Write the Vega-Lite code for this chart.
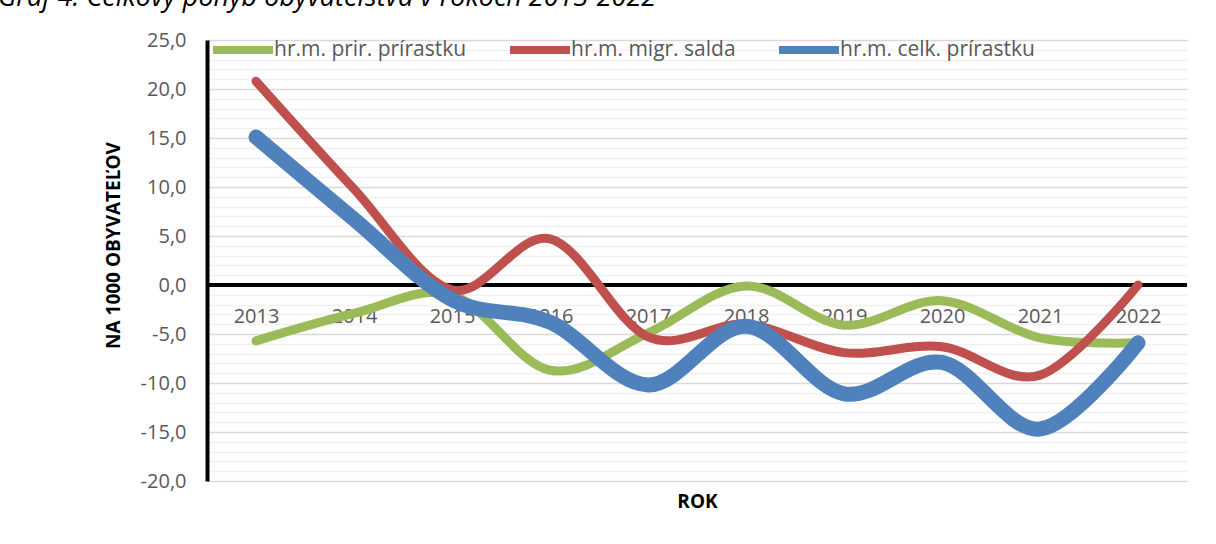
{
  "$schema": "https://vega.github.io/schema/vega-lite/v6.json",
  "width": 980,
  "height": 441,
  "autosize": {"type": "none"},
  "padding": {"left": 207, "top": 40, "right": 29, "bottom": 63},
  "background": "white",
  "title": {
    "text": "Graf 4: Celkový pohyb obyvateľstva v rokoch 2013-2022",
    "anchor": "start",
    "frame": "group",
    "fontStyle": "italic",
    "fontWeight": "normal",
    "fontSize": 27,
    "color": "#000000",
    "font": "Open Sans",
    "dx": -209,
    "dy": 17,
    "offset": 0,
    "baseline": "alphabetic"
  },
  "config": {
    "font": "Open Sans",
    "view": {"stroke": null}
  },
  "data": {
    "values": [
      {"year": "2013", "series": "hr.m. prir. prírastku", "value": -5.7},
      {"year": "2014", "series": "hr.m. prir. prírastku", "value": -2.9},
      {"year": "2015", "series": "hr.m. prir. prírastku", "value": -1.0},
      {"year": "2016", "series": "hr.m. prir. prírastku", "value": -8.7},
      {"year": "2017", "series": "hr.m. prir. prírastku", "value": -4.9},
      {"year": "2018", "series": "hr.m. prir. prírastku", "value": -0.1},
      {"year": "2019", "series": "hr.m. prir. prírastku", "value": -4.1},
      {"year": "2020", "series": "hr.m. prir. prírastku", "value": -1.6},
      {"year": "2021", "series": "hr.m. prir. prírastku", "value": -5.4},
      {"year": "2022", "series": "hr.m. prir. prírastku", "value": -5.9},
      {"year": "2013", "series": "hr.m. migr. salda", "value": 20.8},
      {"year": "2014", "series": "hr.m. migr. salda", "value": 9.8},
      {"year": "2015", "series": "hr.m. migr. salda", "value": -0.5},
      {"year": "2016", "series": "hr.m. migr. salda", "value": 4.7},
      {"year": "2017", "series": "hr.m. migr. salda", "value": -5.3},
      {"year": "2018", "series": "hr.m. migr. salda", "value": -4.0},
      {"year": "2019", "series": "hr.m. migr. salda", "value": -6.9},
      {"year": "2020", "series": "hr.m. migr. salda", "value": -6.3},
      {"year": "2021", "series": "hr.m. migr. salda", "value": -9.2},
      {"year": "2022", "series": "hr.m. migr. salda", "value": 0.0},
      {"year": "2013", "series": "hr.m. celk. prírastku", "value": 15.1},
      {"year": "2014", "series": "hr.m. celk. prírastku", "value": 6.7},
      {"year": "2015", "series": "hr.m. celk. prírastku", "value": -1.5},
      {"year": "2016", "series": "hr.m. celk. prírastku", "value": -3.8},
      {"year": "2017", "series": "hr.m. celk. prírastku", "value": -10.2},
      {"year": "2018", "series": "hr.m. celk. prírastku", "value": -4.2},
      {"year": "2019", "series": "hr.m. celk. prírastku", "value": -11.1},
      {"year": "2020", "series": "hr.m. celk. prírastku", "value": -7.9},
      {"year": "2021", "series": "hr.m. celk. prírastku", "value": -14.7},
      {"year": "2022", "series": "hr.m. celk. prírastku", "value": -5.9}
    ]
  },
  "layer": [
    {
      "mark": {"type": "rule", "color": "#000000", "strokeWidth": 4},
      "encoding": {"y": {"datum": 0, "type": "quantitative"}}
    },
    {
      "transform": [{"filter": "datum.series === 'hr.m. prir. prírastku'"}],
      "mark": {"type": "line", "interpolate": "cardinal", "strokeWidth": 9, "strokeCap": "round", "strokeJoin": "round"},
      "encoding": {
        "x": {
          "field": "year", "type": "ordinal", "sort": null,
          "scale": {"type": "point", "padding": 0.5},
          "axis": {
            "orient": "bottom", "offset": -196, "domain": false, "ticks": false, "tickSize": 0,
            "labelAngle": 0, "labelFontSize": 20, "labelColor": "#595959", "labelBaseline": "middle", "labelPadding": 31,
            "title": "ROK", "titleFontSize": 19, "titleFontWeight": "bold", "titleColor": "#000000",
            "titleY": 216, "titleBaseline": "middle", "grid": false
          }
        },
        "y": {
          "field": "value", "type": "quantitative",
          "scale": {"domain": [-20, 25], "nice": false, "zero": false},
          "axis": {
            "values": [-20,-19,-18,-17,-16,-15,-14,-13,-12,-11,-10,-9,-8,-7,-6,-5,-4,-3,-2,-1,0,1,2,3,4,5,6,7,8,9,10,11,12,13,14,15,16,17,18,19,20,21,22,23,24,25],
            "tickCount": 200,
            "labelExpr": "datum.value % 5 === 0 ? ((datum.value < 0 ? '-' : '') + replace(format(abs(datum.value), '.1f'), '.', ',')) : ''",
            "labelOverlap": false,
            "labelFontSize": 20, "labelColor": "#595959", "labelPadding": 21,
            "ticks": false, "tickSize": 0,
            "domain": true, "domainColor": "#000000", "domainWidth": 4,
            "grid": true,
            "gridColor": {"condition": {"test": "datum.value % 5 === 0", "value": "#d9d9d9"}, "value": "#f0f0f0"},
            "gridWidth": 1.5,
            "title": "NA 1000 OBYVATEĽOV", "titleFontSize": 19, "titleFontWeight": "bold", "titleColor": "#000000",
            "titleX": -94, "titleY": 205, "titleAngle": -90, "titleAlign": "center", "titleBaseline": "middle"
          }
        },
        "color": {
          "field": "series", "type": "nominal",
          "scale": {"domain": ["hr.m. prir. prírastku", "hr.m. migr. salda", "hr.m. celk. prírastku"], "range": ["#9BBB59", "#C0504D", "#4F81BD"]},
          "legend": {
            "orient": "none", "legendX": 2, "legendY": -24, "direction": "horizontal", "title": null,
            "symbolType": "stroke", "symbolSize": 3600, "symbolStrokeWidth": 8,
            "labelFontSize": 21, "labelColor": "#595959", "labelOffset": -3, "columnPadding": 27, "labelLimit": 400, "padding": 0
          }
        }
      }
    },
    {
      "transform": [{"filter": "datum.series === 'hr.m. migr. salda'"}],
      "mark": {"type": "line", "interpolate": "cardinal", "strokeWidth": 9, "strokeCap": "round", "strokeJoin": "round"},
      "encoding": {
        "x": {"field": "year", "type": "ordinal", "sort": null},
        "y": {"field": "value", "type": "quantitative"},
        "color": {"field": "series", "type": "nominal"}
      }
    },
    {
      "transform": [{"filter": "datum.series === 'hr.m. celk. prírastku'"}],
      "mark": {"type": "line", "interpolate": "cardinal", "strokeWidth": 15, "strokeCap": "round", "strokeJoin": "round"},
      "encoding": {
        "x": {"field": "year", "type": "ordinal", "sort": null},
        "y": {"field": "value", "type": "quantitative"},
        "color": {"field": "series", "type": "nominal"}
      }
    }
  ]
}
